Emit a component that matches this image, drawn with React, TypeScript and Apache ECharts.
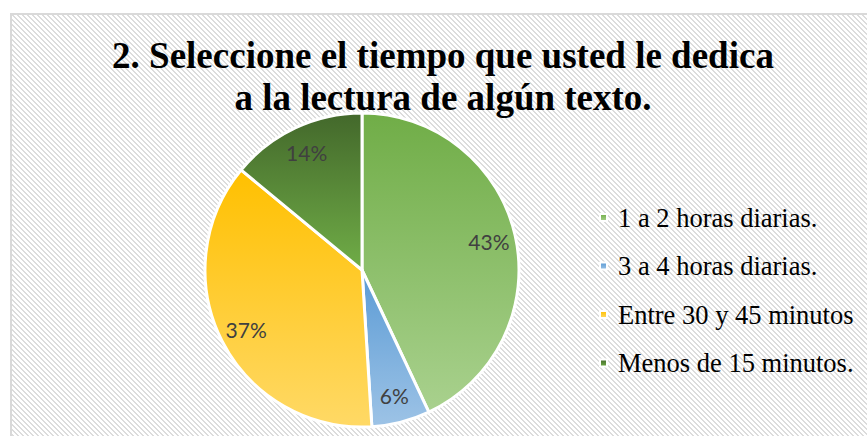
import React, { useEffect, useRef } from "react";
import * as echarts from "echarts";

const titleLines = ["2. Seleccione el tiempo que usted le dedica", "a la lectura de algún texto."];
const categories = ["1 a 2 horas diarias.", "3 a 4 horas diarias.", "Entre 30 y 45 minutos", "Menos de 15 minutos."];
const values = [43, 6, 37, 14];

const topColors = ["#70ad47", "#5b9bd5", "#ffc000", "#43682b"];
const bottomColors = ["#a9d18e", "#9dc3e6", "#ffd966", "#70ad47"];

const hatchTile =
  "data:image/svg+xml;utf8," +
  encodeURIComponent(
    "<svg xmlns='http://www.w3.org/2000/svg' width='5' height='5' shape-rendering='crispEdges'>" +
      "<rect width='5' height='5' fill='#ffffff'/>" +
      "<rect x='0' y='0' width='2' height='1' fill='#dcdcdc'/>" +
      "<rect x='1' y='1' width='2' height='1' fill='#dcdcdc'/>" +
      "<rect x='2' y='2' width='2' height='1' fill='#dcdcdc'/>" +
      "<rect x='3' y='3' width='2' height='1' fill='#dcdcdc'/>" +
      "<rect x='4' y='4' width='1' height='1' fill='#dcdcdc'/>" +
      "<rect x='0' y='4' width='1' height='1' fill='#dcdcdc'/>" +
      "</svg>"
  );

export default function App() {
  const ref = useRef<HTMLDivElement>(null);
  useEffect(() => {
    if (!ref.current) return;
    const chart = echarts.init(ref.current, undefined, { renderer: "svg" });
    const grad = (i: number) => ({
      type: "linear",
      x: 0,
      y: 0,
      x2: 0,
      y2: 1,
      colorStops: [
        { offset: 0, color: topColors[i] },
        { offset: 1, color: bottomColors[i] },
      ],
    });
    const pieData = categories.map((name, i) => ({
      name,
      value: values[i],
      itemStyle: { color: grad(i) as any },
    }));
    const labelData = categories.map((name, i) => ({ name, value: values[i] }));
    chart.setOption({
      animation: false,
      backgroundColor: "transparent",
      graphic: [
        {
          type: "text",
          x: 443,
          y: 34,
          style: {
            text: titleLines.join("\n"),
            font: "bold 37px 'Liberation Serif', 'Times New Roman', serif",
            fill: "#000",
            textAlign: "center",
            textVerticalAlign: "top",
            lineHeight: 42,
          },
        },
      ],
      legend: {
        orient: "vertical",
        left: 599,
        top: 204,
        padding: 0,
        icon: "rect",
        itemWidth: 7,
        itemHeight: 7,
        itemGap: 21.5,
        data: categories,
        selectedMode: false,
        textStyle: {
          fontFamily: "'Liberation Serif', 'Times New Roman', serif",
          fontSize: 26.5,
          lineHeight: 24,
          color: "#000",
          padding: [0, 0, 0, 6],
        },
      },
      series: [
        {
          type: "pie",
          center: [362, 270],
          radius: [0, 157],
          startAngle: 90,
          clockwise: true,
          label: { show: false },
          labelLine: { show: false },
          itemStyle: { borderColor: "#ffffff", borderWidth: 3 },
          emphasis: { disabled: true },
          data: pieData,
        },
        {
          type: "pie",
          center: [362, 270],
          radius: [97, 157],
          startAngle: 90,
          clockwise: true,
          silent: true,
          legendHoverLink: false,
          itemStyle: { color: "rgba(0,0,0,0)", borderWidth: 0 },
          label: {
            show: true,
            position: "inside",
            formatter: "{c}%",
            fontFamily: "Lato, 'Open Sans', sans-serif",
            fontSize: 21,
            color: "#404040",
          },
          labelLine: { show: false },
          emphasis: { disabled: true },
          data: labelData,
        },
      ],
    });
    return () => chart.dispose();
  }, []);
  return (
    <div style={{ position: "fixed", left: 0, top: 0, width: 867, height: 436, overflow: "hidden", background: "#ffffff" }}>
      <div
        style={{
          position: "absolute",
          left: 10,
          top: 13,
          width: 900,
          height: 460,
          border: "2px solid #d9d9d9",
          backgroundColor: "#ffffff",
          backgroundImage: `url("${hatchTile}")`,
          backgroundRepeat: "repeat",
        }}
      />
      <div ref={ref} style={{ position: "absolute", left: 0, top: 0, width: 867, height: 436 }} />
    </div>
  );
}
